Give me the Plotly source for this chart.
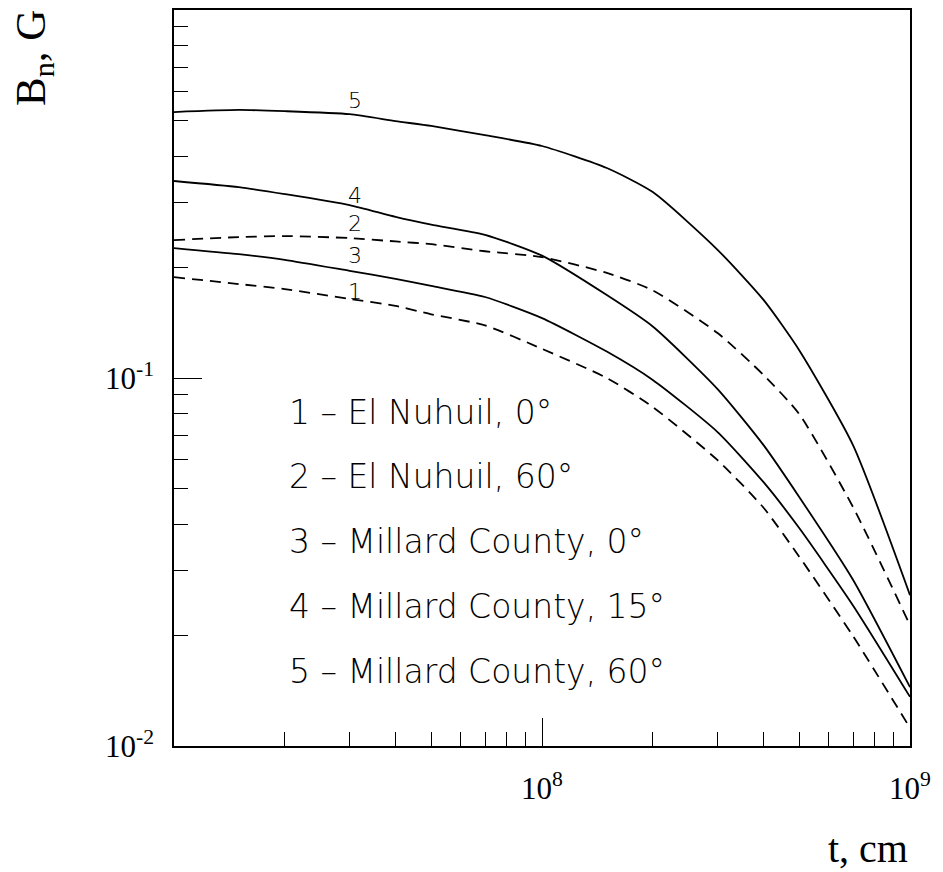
import math
import plotly.graph_objects as go

# Distance t (cm) at which each curve was sampled
t_cm = [1e7, 1.5e7, 2e7, 3e7, 4e7, 5e7, 7e7, 1e8, 1.5e8, 2e8, 3e8, 4e8, 5e8, 7e8, 1e9]

# Field B_n (G) for each meteor / angle
b1_nuhuil_0 = [0.188, 0.180, 0.1745, 0.164, 0.157, 0.149, 0.139, 0.120, 0.100, 0.0834,
               0.0598, 0.0444, 0.0327, 0.0199, 0.0112]
b2_nuhuil_60 = [0.237, 0.2415, 0.243, 0.240, 0.235, 0.231, 0.221, 0.213, 0.193, 0.173,
                0.1325, 0.1019, 0.0798, 0.0446, 0.0213]
b3_millard_0 = [0.2255, 0.217, 0.2095, 0.1955, 0.186, 0.178, 0.166, 0.1455, 0.118, 0.0988,
                0.0713, 0.0521, 0.0391, 0.0241, 0.0136]
b4_millard_15 = [0.343, 0.330, 0.316, 0.295, 0.274, 0.261, 0.245, 0.215, 0.168, 0.138,
                 0.0933, 0.0657, 0.0475, 0.0283, 0.01445]
b5_millard_60 = [0.528, 0.535, 0.531, 0.521, 0.499, 0.484, 0.457, 0.427, 0.372, 0.320,
                 0.223, 0.163, 0.119, 0.0657, 0.0257]

curve_ids = ["1", "2", "3", "4", "5"]
curve_values = [b1_nuhuil_0, b2_nuhuil_60, b3_millard_0, b4_millard_15, b5_millard_60]
curve_dashed = [True, True, False, False, False]
legend_lines = [
    "1 – El Nuhuil, 0°",
    "2 – El Nuhuil, 60°",
    "3 – Millard County, 0°",
    "4 – Millard County, 15°",
    "5 – Millard County, 60°",
]

# Position of the curve number labels (t, B)
label_t = 3.1e7
label_b = {"5": 0.569, "4": 0.3125, "2": 0.2636, "3": 0.2148, "1": 0.1722}

# Axis ticks: labelled decades plus 2..9 minor ticks
x_major = [1e8, 1e9]
x_major_text = ["10<sup>8</sup>", "10<sup>9</sup>"]
x_minor = [m * 10 ** e for e in (7, 8) for m in range(2, 10)]
y_major = [0.01, 0.1]
y_major_text = ["10<sup>-2</sup>", "10<sup>-1</sup>"]
y_minor = [m * 10 ** e for e in (-2, -1) for m in range(2, 10)]

serif = "Liberation Serif, Times New Roman, serif"
thin = "DejaVu Sans, sans-serif"

fig = go.Figure()
for cid, vals, dashed in zip(curve_ids, curve_values, curve_dashed):
    fig.add_trace(go.Scatter(
        x=t_cm, y=vals, mode="lines", name=cid, showlegend=False,
        line=dict(color="black", width=1.8, shape="spline", smoothing=0.6,
                  dash="11px,7px" if dashed else "solid"),
    ))

for cid in curve_ids:
    fig.add_annotation(
        x=math.log10(label_t), y=math.log10(label_b[cid]),
        xref="x", yref="y", text=cid, showarrow=False,
        font=dict(family=thin, size=22, color="black", weight=200),
    )

for i, line in enumerate(legend_lines):
    fig.add_annotation(
        x=0.1536, y=0.4538 - i * 0.0883, xref="paper", yref="paper",
        text=line, showarrow=False, xanchor="left", yanchor="middle",
        font=dict(family=thin, size=33, color="black", weight=200),
    )

# axis titles
fig.add_annotation(x=1.0, y=-0.139, xref="paper", yref="paper", text="t, cm",
                   showarrow=False, xanchor="right", yanchor="middle",
                   font=dict(family=serif, size=40, color="black"))
fig.add_annotation(x=-0.19, y=1.003, xref="paper", yref="paper", text="B<sub>n</sub>, G",
                   showarrow=False, textangle=-90, xanchor="center", yanchor="top",
                   font=dict(family=serif, size=43, color="black"))

axis_common = dict(type="log", showgrid=False, zeroline=False, ticks="inside",
                   tickcolor="black", tickwidth=1, automargin=False, tickangle=0,
                   showline=True, linecolor="black", linewidth=1.5, mirror=True,
                   ticklen=28, tickmode="array")

fig.update_layout(
    width=943, height=872,
    margin=dict(l=174, r=33, t=10, b=126),
    paper_bgcolor="white", plot_bgcolor="white",
    xaxis=dict(**axis_common, range=[7, 9], tickvals=x_major, ticktext=x_major_text,
               ticklabelstandoff=14,
               tickfont=dict(family=serif, size=31, color="black"),
               minor=dict(tickmode="array", tickvals=x_minor, ticks="inside",
                          ticklen=14, tickwidth=1, tickcolor="black", showgrid=False)),
    yaxis=dict(**axis_common, range=[-2, 0], tickvals=y_major, ticktext=y_major_text,
               ticklabelstandoff=12,
               tickfont=dict(family=serif, size=31, color="black"),
               minor=dict(tickmode="array", tickvals=y_minor, ticks="inside",
                          ticklen=14, tickwidth=1, tickcolor="black", showgrid=False)),
)

fig.write_html("out.html")
